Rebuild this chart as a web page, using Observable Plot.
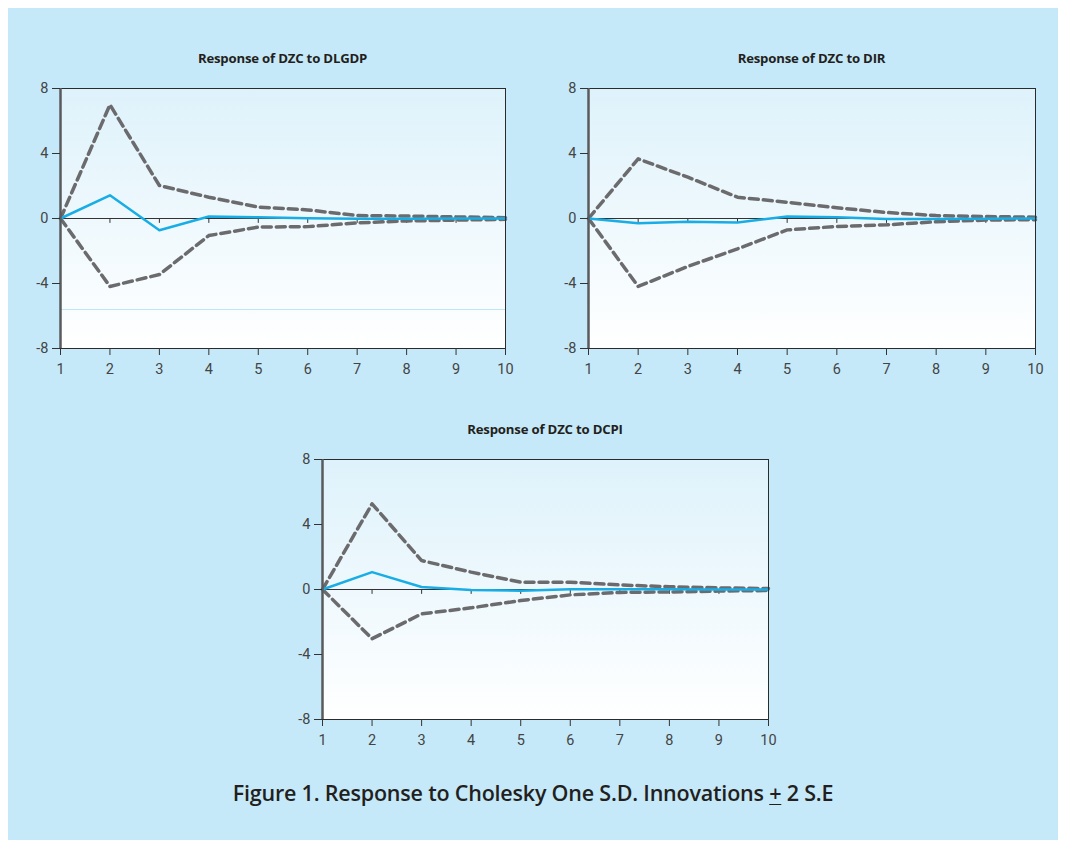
<!DOCTYPE html>
<html><head><meta charset="utf-8">
<script src="https://cdn.jsdelivr.net/npm/d3@7"></script>
<script src="https://cdn.jsdelivr.net/npm/@observablehq/plot@0.6"></script>
<style>
body{margin:0;background:#fff;width:1066px;height:845px;overflow:hidden;position:relative}
#bg{position:absolute;left:8px;top:8px;width:1050px;height:832px;background:#c6e9f9}
.panel{position:absolute}
.title{position:absolute;font-family:"Open Sans",sans-serif;font-weight:bold;font-size:13.2px;color:#231f20;text-align:center;width:445px;line-height:16px;letter-spacing:-0.2px}
#caption{position:absolute;left:8px;width:1050px;top:779px;text-align:center;font-family:"Open Sans",sans-serif;font-weight:600;font-size:21.5px;color:#231f20;letter-spacing:-0.2px;line-height:28px}
#caption u{text-decoration-thickness:1px;text-underline-offset:3px}
</style></head>
<body>
<svg width="0" height="0" style="position:absolute"><defs>
<linearGradient id="bgGrad" x1="0" y1="0" x2="0" y2="1">
<stop offset="0" stop-color="#def2fb"/><stop offset="1" stop-color="#ffffff"/>
</linearGradient></defs></svg>
<div id="bg"></div>
<div id="root"></div>
<div id="caption">Figure 1. Response to Cholesky One S.D. Innovations <u>+</u> 2 S.E</div>
<script>
const periods = [1,2,3,4,5,6,7,8,9,10];
const yTicks = [-8,-4,0,4,8];
const titles = ["Response of DZC to DLGDP","Response of DZC to DIR","Response of DZC to DCPI"];

const gdpResp  = [0, 1.43, -0.72, 0.12, 0.08, 0.02, -0.02, -0.01, 0, 0];
const gdpUpper = [0, 7.0, 2.03, 1.31, 0.7, 0.53, 0.18, 0.15, 0.1, 0.05];
const gdpLower = [0, -4.18, -3.45, -1.05, -0.53, -0.5, -0.27, -0.15, -0.1, -0.05];
const gdpFaint = [-5.6];

const irResp  = [0, -0.29, -0.2, -0.25, 0.12, 0.08, -0.03, -0.03, -0.01, 0];
const irUpper = [0, 3.67, 2.54, 1.31, 1.0, 0.66, 0.37, 0.18, 0.12, 0.08];
const irLower = [0, -4.18, -2.95, -1.87, -0.7, -0.49, -0.39, -0.2, -0.1, -0.07];

const cpiResp  = [0, 1.07, 0.15, -0.03, -0.07, 0.02, 0.02, 0.01, 0, 0];
const cpiUpper = [0, 5.27, 1.78, 1.07, 0.45, 0.45, 0.28, 0.17, 0.1, 0.06];
const cpiLower = [0, -3.03, -1.5, -1.13, -0.68, -0.33, -0.18, -0.15, -0.1, -0.06];

const zeroTickDepth = -0.3;

function rows(vals){ return periods.map((p,i)=>({p, v: vals[i]})); }

function makePanel(resp, upper, lower, faint, left, top, plotW, title){
  const W = 510, H = 310, mL = 40, mT = 18, plotH = 260;
  const marks = [
    Plot.frame({fill: "url(#bgGrad)"}),
  ];
  if (faint.length) marks.push(Plot.ruleY(faint, {stroke: "#bfe6f7", strokeWidth: 1}));
  marks.push(
    Plot.ruleY([0], {stroke: "#333", strokeWidth: 1}),
    Plot.ruleX(periods.slice(1, -1), {y1: 0, y2: zeroTickDepth, stroke: "#333", strokeWidth: 1}),
    Plot.line(rows(upper), {x: "p", y: "v", stroke: "#6b6b6e", strokeWidth: 3.5, strokeDasharray: "9,5"}),
    Plot.line(rows(lower), {x: "p", y: "v", stroke: "#6b6b6e", strokeWidth: 3.5, strokeDasharray: "9,5"}),
    Plot.line(rows(resp), {x: "p", y: "v", stroke: "#19ade6", strokeWidth: 2.5}),
    Plot.frame({stroke: "#2b2b2b", strokeWidth: 1}),
    Plot.ruleX([1], {stroke: "#5a5a5c", strokeWidth: 2.5}),
    Plot.axisY({ticks: yTicks, tickSize: 8, tickPadding: 4, fontSize: 14.5, stroke: "#333", fill: "#444", label: null, tickFormat: d => String(d)}),
    Plot.axisX({ticks: periods, tickSize: 7, tickPadding: 8, fontSize: 14.5, stroke: "#333", fill: "#444", label: null, tickFormat: d => String(d)})
  );
  const chart = Plot.plot({
    width: W, height: H,
    marginLeft: mL, marginTop: mT, marginRight: W - mL - plotW, marginBottom: H - mT - plotH,
    x: {domain: [1, 10], label: null},
    y: {domain: [-8, 8], label: null},
    style: {background: "transparent", fontFamily: "Roboto, sans-serif", fontSize: "14.5px", fontWeight: 400, overflow: "visible"},
    marks
  });
  chart.classList.add("panel");
  chart.style.left = left + "px";
  chart.style.top = top + "px";
  document.getElementById("root").appendChild(chart);
  const t = document.createElement("div");
  t.className = "title";
  t.textContent = title;
  t.style.left = (left + mL) + "px";
  t.style.width = plotW + "px";
  t.style.top = (top - 20) + "px";
  document.getElementById("root").appendChild(t);
}

makePanel(gdpResp, gdpUpper, gdpLower, gdpFaint, 20, 70, 445, titles[0]);
makePanel(irResp, irUpper, irLower, [], 548, 70, 447, titles[1]);
makePanel(cpiResp, cpiUpper, cpiLower, [], 282, 441, 446, titles[2]);
</script>
</body></html>
